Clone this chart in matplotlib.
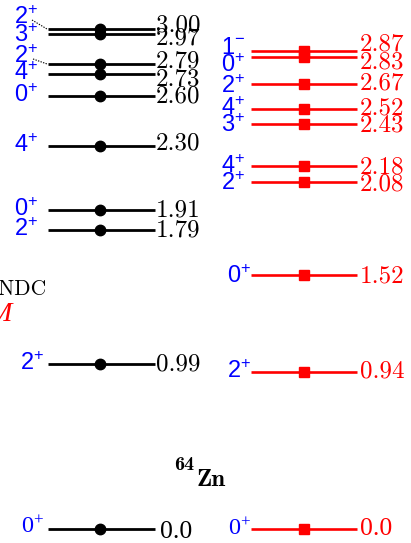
import matplotlib
matplotlib.use("Agg")
import matplotlib.pyplot as plt

# ---------------- data ----------------
nndc_energies = [3.00, 2.97, 2.79, 2.73, 2.60, 2.30, 1.91, 1.79, 0.99, 0.0]
nndc_labels = ["3.00", "2.97", "2.79", "2.73", "2.60", "2.30", "1.91", "1.79", "0.99", "0.0"]
nndc_spins = ["2^{+}", "3^{+}", "2^{+}", "4^{+}", "0^{+}", "4^{+}", "0^{+}", "2^{+}", "2^{+}", "0^{+}"]

ibm_energies = [2.87, 2.83, 2.67, 2.52, 2.43, 2.18, 2.08, 1.52, 0.94, 0.0]
ibm_labels = ["2.87", "2.83", "2.67", "2.52", "2.43", "2.18", "2.08", "1.52", "0.94", "0.0"]
ibm_spins = ["1^{-}", "0^{+}", "2^{+}", "4^{+}", "3^{+}", "4^{+}", "2^{+}", "0^{+}", "2^{+}", "0^{+}"]

nucleus_mass = "64"
nucleus_symbol = "Zn"
legend_names = ["NNDC", "IBM"]

# ---------------- layout (pixels) ----------------
W, H = 411, 543
ZERO_PX = 528.5          # pixel row of E = 0
SCALE = 166.5            # pixels per MeV

# baseline offsets (pixels, + = up) of value and spin labels relative to the level line
nndc_val_dy = [-2, -11, -4, -12, -7, -4, -6, -6, -7, -9]
nndc_spin_dy = [5, -8, 1, -6, -6, -6, -5.5, -5.5, -6, -4.5]
ibm_val_dy = [0, -11, -6, -6, -8, -7.5, -8.5, -7, -6, -6.5]
ibm_spin_dy = [-3, -15, -9, -6, -8, -7.5, -8, -8, -6, -6.5]

BLUE = "#0000ff"
RED = "#ff0000"

fig = plt.figure(figsize=(W / 100, H / 100), dpi=100)
ax = fig.add_axes([0, 0, 1, 1])
ax.set_xlim(0, W)
ax.set_ylim(-(H - ZERO_PX) / SCALE, ZERO_PX / SCALE)
ax.axis("off")

val_font = dict(family="cmr10", size=18)
spin_font = dict(family="Liberation Sans", size=17)
serif_font = dict(family="Liberation Serif", size=18.5)


def px(dy):
    return dy / SCALE


# NNDC column
for i, (e, lab, sp) in enumerate(zip(nndc_energies, nndc_labels, nndc_spins)):
    ax.plot([48, 155], [e, e], color="black", lw=2.0, solid_capstyle="butt", zorder=2)
    ax.plot([100], [e], marker="o", ms=7.5, color="black", zorder=3)
    last = (i == len(nndc_energies) - 1)
    vf = serif_font if last else val_font
    vx = 160 if last else 156
    ax.text(vx, e + px(nndc_val_dy[i]), lab, color="black", ha="left", va="baseline", **vf)
    sx = 44 if i >= len(nndc_energies) - 2 else 38
    sf = dict(serif_font, size=17.5) if last else spin_font
    ax.text(sx, e + px(nndc_spin_dy[i]), r"$\mathregular{" + sp + "}$", color=BLUE,
            ha="right", va="baseline", **sf)

# dotted connectors for the shifted spin labels
ax.plot([32, 47], [nndc_energies[0] + px(9), nndc_energies[0]], color="black", lw=0.8,
        ls=(0, (1.2, 1.2)))
ax.plot([33, 47], [nndc_energies[2] + px(5), nndc_energies[2]], color="black", lw=0.8,
        ls=(0, (1.2, 1.2)))

# IBM column
for i, (e, lab, sp) in enumerate(zip(ibm_energies, ibm_labels, ibm_spins)):
    ax.plot([251, 357], [e, e], color=RED, lw=1.9, solid_capstyle="butt", zorder=2)
    ax.plot([304], [e], marker="s", ms=7, color=RED, zorder=3)
    last = (i == len(ibm_energies) - 1)
    vf = serif_font if last else val_font
    ax.text(360, e + px(ibm_val_dy[i]), lab, color=RED, ha="left", va="baseline", **vf)
    sx = 251 if i >= len(ibm_energies) - 3 else 245
    sf = dict(serif_font, size=17.5) if last else spin_font
    ax.text(sx, e + px(ibm_spin_dy[i]), r"$\mathregular{" + sp + "}$", color=BLUE,
            ha="right", va="baseline", **sf)

# nucleus label
ax.text(194, (ZERO_PX - 470) / SCALE, nucleus_mass, color="black", ha="right", va="baseline",
        family="cmb10", size=14.5)
ax.text(197, (ZERO_PX - 486) / SCALE, nucleus_symbol, color="black", ha="left", va="baseline",
        family="cmb10", size=18)

# legend (partially outside the figure, as in the reference)
ax.text(47, (ZERO_PX - 295) / SCALE, legend_names[0], color="black", ha="right", va="baseline",
        family="cmr10", size=15.5)
ax.text(12, (ZERO_PX - 321) / SCALE, legend_names[1], color=RED, ha="right", va="baseline",
        family="Liberation Serif", style="italic", size=20)

fig.savefig("out.png", dpi=100)
